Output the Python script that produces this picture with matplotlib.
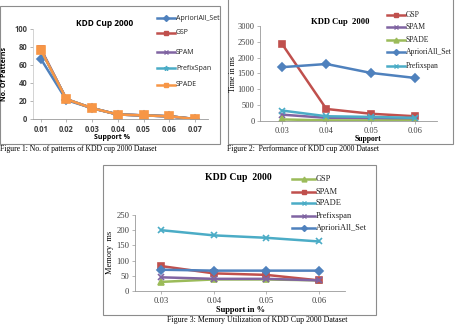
import matplotlib
matplotlib.use("Agg")
import matplotlib.pyplot as plt
from matplotlib.patches import Rectangle

# ---------- data ----------
support_1 = ["0.01", "0.02", "0.03", "0.04", "0.05", "0.06", "0.07"]
pat_apriori = [67, 21, 12, 5, 4, 3, 0]
pat_gsp = [78, 22, 12, 5, 4, 3, 0]
pat_spam = [78, 22, 12, 5, 4, 3, 0]
pat_prefix = [77, 22, 12, 5, 4, 3, 0]
pat_spade = [77, 22, 12, 5, 4, 3, 0]

support_2 = ["0.03", "0.04", "0.05", "0.06"]
time_gsp = [2430, 380, 230, 150]
time_spam = [200, 100, 80, 60]
time_spade = [50, 20, 15, 10]
time_apriori = [1700, 1800, 1520, 1360]
time_prefix = [330, 150, 130, 100]

mem_gsp = [30, 38, 38, 35]
mem_spam = [82, 58, 53, 35]
mem_spade = [200, 183, 175, 163]
mem_prefix = [45, 40, 40, 35]
mem_apriori = [70, 67, 67, 67]

BLUE, RED, PURPLE, CYAN, ORANGE, GREEN = "#4F81BD", "#C0504D", "#8064A2", "#4BACC6", "#F79646", "#9BBB59"
W, H = 459, 325
SANS = "Open Sans"
SERIF = "Liberation Serif"

fig = plt.figure(figsize=(W / 100, H / 100), dpi=100)


def px_axes(left, top, right, bottom):
    return fig.add_axes([left / W, 1 - bottom / H, (right - left) / W, (bottom - top) / H])


def frame(left, top, right, bottom):
    fig.add_artist(Rectangle((left / W, 1 - bottom / H), (right - left) / W, (bottom - top) / H,
                             transform=fig.transFigure, fill=False, edgecolor="#8c8c8c", lw=0.8))


def style(ax, font, size, bold_ticks=False):
    for s in ["top", "right"]:
        ax.spines[s].set_visible(False)
    for s in ["left", "bottom"]:
        ax.spines[s].set_color("#999999")
        ax.spines[s].set_linewidth(0.6)
    ax.tick_params(length=2, width=0.5, color="#999999", pad=2, labelsize=size)
    for lab in ax.get_xticklabels() + ax.get_yticklabels():
        lab.set_family(font)
        lab.set_color("#404040")
        if bold_ticks:
            lab.set_weight("bold")


def legend_entries(entries, x0, ys, font, size=5.3, length=18):
    for (name, color, marker, ms), y in zip(entries, ys):
        xs = [x0 / W, (x0 + length / 2) / W, (x0 + length) / W]
        fig.add_artist(plt.Line2D(xs, [1 - y / H] * 3, color=color, lw=1.8,
                                  marker=marker, markevery=[1], ms=ms, mew=1, transform=fig.transFigure))
        fig.text((x0 + length + 1) / W, 1 - y / H, name, family=font, fontsize=size, va="center", color="#222222")


def draw_lines(ax, x, series):
    for vals, color, marker, ms in series:
        ax.plot(x, vals, color=color, lw=1.8, marker=marker, ms=ms, mew=1.2)


# ---------- chart 1 ----------
frame(0, 6, 220, 144)
ax1 = px_axes(33, 29, 208, 119)
x1 = list(range(len(support_1)))
draw_lines(ax1, x1, [
    (pat_apriori, BLUE, "D", 4),
    (pat_gsp, RED, "s", 5),
    (pat_spam, PURPLE, "x", 5),
    (pat_prefix, CYAN, "*", 5),
    (pat_spade, ORANGE, "s", 6),
])
ax1.set_xlim(-0.3, 6.5)
ax1.set_ylim(0, 100)
ax1.set_yticks(range(0, 101, 20))
ax1.set_xticks(x1)
ax1.set_xticklabels(support_1)
style(ax1, SANS, 5.5, bold_ticks=True)
ax1.spines["left"].set_color("#cccccc")
fig.text(105 / W, 1 - 23 / H, "KDD Cup 2000", family=SANS, fontsize=6, weight="bold", ha="center", va="center")
fig.text(112 / W, 1 - 137.5 / H, "Support %", family=SANS, fontsize=5, weight="bold", ha="center", va="center")
fig.text(5 / W, 1 - 74 / H, "No. Of Patterns", family=SANS, fontsize=5, weight="bold", ha="center", va="center",
         rotation=90)
legend_entries([("AprioriAll_Set", BLUE, "D", 3), ("GSP", RED, "s", 3.5), ("SPAM", PURPLE, "x", 3.5),
                ("PrefixSpan", CYAN, "*", 3.5), ("SPADE", ORANGE, "s", 3.5)],
               157, [18, 33, 52, 68, 85], SANS, size=5)
fig.text(0 / W, 1 - 149 / H, "Figure 1: No. of patterns of KDD cup 2000 Dataset", family=SERIF, fontsize=5.5,
         va="center")

# ---------- chart 2 ----------
frame(228, -2, 453, 144)
ax2 = px_axes(260, 26, 437, 121)
x2 = list(range(len(support_2)))
draw_lines(ax2, x2, [
    (time_gsp, RED, "s", 5),
    (time_spam, PURPLE, "x", 5),
    (time_spade, GREEN, "^", 5),
    (time_apriori, BLUE, "D", 4),
    (time_prefix, CYAN, "x", 5),
])
ax2.set_xlim(-0.5, 3.5)
ax2.set_ylim(0, 3000)
ax2.set_yticks(range(0, 3001, 500))
ax2.set_xticks(x2)
ax2.set_xticklabels(support_2)
style(ax2, SERIF, 6)
fig.text(340 / W, 1 - 22 / H, "KDD Cup  2000", family=SERIF, fontsize=6.2, weight="bold", ha="center", va="center")
fig.text(368 / W, 1 - 139 / H, "Support", family=SERIF, fontsize=5.5, weight="bold", ha="center", va="center")
fig.text(233 / W, 1 - 74 / H, "Time in ms", family=SERIF, fontsize=5.8, ha="center", va="center", rotation=90)
legend_entries([("GSP", RED, "s", 3.5), ("SPAM", PURPLE, "x", 3.5), ("SPADE", GREEN, "^", 3.5),
                ("AprioriAll_Set", BLUE, "D", 3), ("Prefixspan", CYAN, "x", 3.5)],
               387, [15, 27, 40, 52, 66], SERIF, size=5.5)
fig.text(227 / W, 1 - 149 / H, "Figure 2:  Performance of KDD cup 2000 Dataset", family=SERIF, fontsize=5.5,
         va="center")

# ---------- chart 3 ----------
frame(103, 165, 376, 315)
ax3 = px_axes(135, 215, 345, 291)
draw_lines(ax3, x2, [
    (mem_gsp, GREEN, "^", 5),
    (mem_spam, RED, "s", 5),
    (mem_spade, CYAN, "x", 5),
    (mem_prefix, PURPLE, "x", 5),
    (mem_apriori, BLUE, "D", 4),
])
ax3.set_xlim(-0.5, 3.5)
ax3.set_ylim(0, 250)
ax3.set_yticks(range(0, 251, 50))
ax3.set_xticks(x2)
ax3.set_xticklabels(support_2)
style(ax3, SERIF, 6.2)
fig.text(238 / W, 1 - 178 / H, "KDD Cup  2000", family=SERIF, fontsize=7, weight="bold", ha="center", va="center")
fig.text(240 / W, 1 - 309.5 / H, "Support in %", family=SERIF, fontsize=6, weight="bold", ha="center",
         va="center")
fig.text(110 / W, 1 - 252 / H, "Memory  ms", family=SERIF, fontsize=6, ha="center", va="center", rotation=90)
legend_entries([("GSP", GREEN, "^", 3.5), ("SPAM", RED, "s", 3.5), ("SPADE", CYAN, "x", 3.5),
                ("Prefixspan", PURPLE, "x", 3.5), ("AprioriAll_Set", BLUE, "D", 3)],
               292, [179, 192, 203, 216, 228], SERIF, size=6, length=23)
fig.text(167 / W, 1 - 320 / H, "Figure 3: Memory Utilization of KDD Cup 2000 Dataset", family=SERIF, fontsize=5.7,
         va="center")

fig.savefig("out.png", dpi=100)
